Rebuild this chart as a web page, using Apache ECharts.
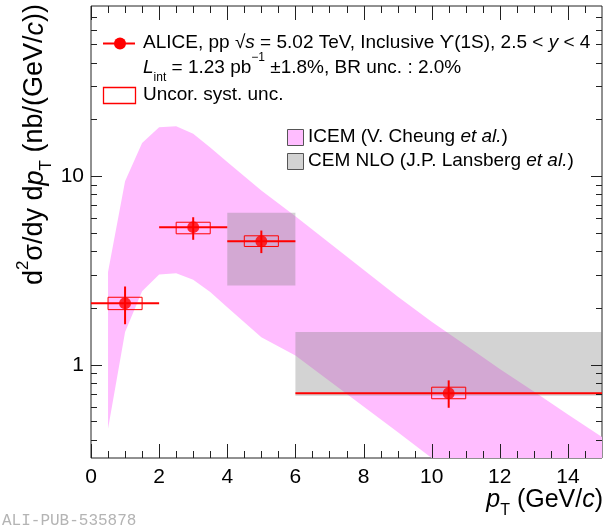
<!DOCTYPE html>
<html>
<head>
<meta charset="utf-8">
<script src="https://cdn.jsdelivr.net/npm/echarts@6/dist/echarts.min.js"></script>
<style>
  html, body { margin: 0; padding: 0; background: #fff; }
  #chart { width: 605px; height: 527px; }
</style>
</head>
<body>
<div id="chart"></div>
<script>
// ALICE Upsilon(1S) points
const ptCenter = [1, 3, 5, 10.5];
const ptLow = [0, 2, 4, 6];
const ptHigh = [2, 4, 6, 15];
const xsec = [2.12, 5.37, 4.52, 0.706];
const statLow = [1.64, 4.60, 3.91, 0.591];
const statHigh = [2.60, 6.06, 5.15, 0.826];
const systLow = [1.96, 4.95, 4.24, 0.660];
const systHigh = [2.28, 5.70, 4.83, 0.760];
const systPtLow = [0.5, 2.5, 4.5, 10];
const systPtHigh = [1.5, 3.5, 5.5, 11];

// ICEM band (V. Cheung et al.)
const icemPt = [0.5, 1, 1.5, 2, 2.5, 3, 3.5, 4, 5, 6, 7, 8, 9, 10, 11, 12, 13, 14, 15];
const icemLow = [0.458, 1.49, 2.45, 3.01, 3.06, 2.82, 2.43, 2.02, 1.40, 1.12, 0.82, 0.60, 0.44, 0.32, 0.235, 0.172, 0.126, 0.092, 0.068];
const icemHigh = [3.1, 9.4, 15.0, 18.2, 18.4, 16.8, 14.2, 11.9, 8.4, 6.13, 4.42, 3.19, 2.30, 1.69, 1.27, 0.95, 0.72, 0.545, 0.413];

// CEM NLO boxes (J.P. Lansberg et al.)
const cemPtLow = [4, 6];
const cemPtHigh = [6, 15];
const cemLow = [2.63, 0.685];
const cemHigh = [6.40, 1.49];

// axis ticks
const xMajorTicks = [0, 2, 4, 6, 8, 10, 12, 14];
const xMinorTicks = [0.5, 1, 1.5, 2.5, 3, 3.5, 4.5, 5, 5.5, 6.5, 7, 7.5, 8.5, 9, 9.5,
  10.5, 11, 11.5, 12.5, 13, 13.5, 14.5];
const yMajorTicks = [1, 10];
const yMinorTicks = [0.4, 0.5, 0.6, 0.7, 0.8, 0.9, 2, 3, 4, 5, 6, 7, 8, 9,
  20, 30, 40, 50, 60, 70];

const X_MIN = 0, X_MAX = 15, Y_MIN = 0.32, Y_MAX = 80;
const FONT = "'Liberation Sans', Arial, Helvetica, sans-serif";
const RED = '#ff0000';
const PINK = '#ffbdff';
const GREY = 'rgba(128,128,128,0.35)';

const ticks = [];
xMajorTicks.forEach((v) => ticks.push({ axis: 'x', v, major: true }));
xMinorTicks.forEach((v) => ticks.push({ axis: 'x', v, major: false }));
yMajorTicks.forEach((v) => ticks.push({ axis: 'y', v, major: true }));
yMinorTicks.forEach((v) => ticks.push({ axis: 'y', v, major: false }));

function renderTick(params, api) {
  const cs = params.coordSys;
  const t = ticks[params.dataIndex];
  const st = { stroke: '#222', lineWidth: 1 };
  if (t.axis === 'x') {
    const px = Math.round(api.coord([t.v, Y_MIN])[0]) + 0.5;
    const len = t.major ? 14 : 7;
    const b = cs.y + cs.height;
    return {
      type: 'group',
      children: [
        { type: 'line', shape: { x1: px, y1: b, x2: px, y2: b - len }, style: st },
        { type: 'line', shape: { x1: px, y1: cs.y, x2: px, y2: cs.y + len }, style: st },
      ],
    };
  }
  const py = Math.round(api.coord([X_MIN, t.v])[1]) + 0.5;
  const len = t.major ? 11 : 6;
  const r = cs.x + cs.width;
  return {
    type: 'group',
    children: [
      { type: 'line', shape: { x1: cs.x, y1: py, x2: cs.x + len, y2: py }, style: st },
      { type: 'line', shape: { x1: r, y1: py, x2: r - len, y2: py }, style: st },
    ],
  };
}

function renderBand(params, api) {
  const pts = [];
  icemPt.forEach((p, i) => pts.push(api.coord([p, icemHigh[i]])));
  for (let i = icemPt.length - 1; i >= 0; i--) pts.push(api.coord([icemPt[i], icemLow[i]]));
  return { type: 'polygon', shape: { points: pts }, style: { fill: PINK } };
}

function renderCem(params, api) {
  const i = params.dataIndex;
  const a = api.coord([cemPtLow[i], cemHigh[i]]);
  const b = api.coord([cemPtHigh[i], cemLow[i]]);
  return {
    type: 'rect',
    shape: { x: a[0], y: a[1], width: b[0] - a[0], height: b[1] - a[1] },
    style: { fill: GREY },
  };
}

function renderErrors(params, api) {
  const i = params.dataIndex;
  const h0 = api.coord([ptLow[i], xsec[i]]);
  const h1 = api.coord([ptHigh[i], xsec[i]]);
  const v0 = api.coord([ptCenter[i], statLow[i]]);
  const v1 = api.coord([ptCenter[i], statHigh[i]]);
  const b0 = api.coord([systPtLow[i], systHigh[i]]);
  const b1 = api.coord([systPtHigh[i], systLow[i]]);
  return {
    type: 'group',
    children: [
      {
        type: 'rect',
        shape: { x: b0[0], y: b0[1], width: b1[0] - b0[0], height: b1[1] - b0[1] },
        style: { fill: 'none', stroke: RED, lineWidth: 1 },
      },
      { type: 'line', shape: { x1: h0[0], y1: h0[1], x2: h1[0], y2: h1[1] }, style: { stroke: RED, lineWidth: 2 } },
      { type: 'line', shape: { x1: v0[0], y1: v0[1], x2: v1[0], y2: v1[1] }, style: { stroke: RED, lineWidth: 2 } },
    ],
  };
}

const txt = { fontFamily: FONT, fontSize: 19, lineHeight: 32, fill: '#000' };
const legendRich = {
  n: { ...txt },
  i: { ...txt, fontStyle: 'italic' },
  sub: { fontFamily: FONT, fontSize: 12, lineHeight: 12, verticalAlign: 'bottom', fill: '#000' },
  sup: { fontFamily: FONT, fontSize: 12, lineHeight: 19, verticalAlign: 'top', fill: '#000' },
};
const titleTxt = { fontFamily: FONT, fontSize: 25, lineHeight: 38, fill: '#000' };
const titleRich = {
  n: { ...titleTxt },
  i: { ...titleTxt, fontStyle: 'italic' },
  sub: { fontFamily: FONT, fontSize: 16, lineHeight: 16, verticalAlign: 'bottom', fill: '#000' },
  sup: { fontFamily: FONT, fontSize: 16, lineHeight: 22, verticalAlign: 'top', fill: '#000' },
};
const yTitleTxt = { fontFamily: FONT, fontSize: 27, lineHeight: 40, fill: '#000' };
const yTitleRich = {
  n: { ...yTitleTxt },
  i: { ...yTitleTxt, fontStyle: 'italic' },
  sub: { fontFamily: FONT, fontSize: 17, lineHeight: 17, verticalAlign: 'bottom', fill: '#000' },
  sup: { fontFamily: FONT, fontSize: 17, lineHeight: 23, verticalAlign: 'top', fill: '#000' },
};

function textEl(x, y, text, rich, align, extra) {
  return Object.assign({
    type: 'text', x, y, z: 100,
    style: { text, rich, align, verticalAlign: 'middle', textAlign: align, textVerticalAlign: 'middle' },
  }, extra || {});
}

const chart = echarts.init(document.getElementById('chart'), null, { renderer: 'canvas' });
chart.setOption({
  animation: false,
  backgroundColor: '#fff',
  grid: { left: 91, right: 3, top: 6, bottom: 69, show: true, borderColor: '#222', borderWidth: 1, backgroundColor: 'transparent' },
  xAxis: {
    type: 'value', min: X_MIN, max: X_MAX, interval: 2,
    axisLine: { show: false }, axisTick: { show: false }, splitLine: { show: false },
    axisLabel: {
      margin: 9, fontSize: 21, fontFamily: FONT, color: '#000',
      formatter: (v) => (v % 2 === 0 ? String(v) : ''),
    },
  },
  yAxis: {
    type: 'log', logBase: 10, min: Y_MIN, max: Y_MAX,
    axisLine: { show: false }, axisTick: { show: false }, splitLine: { show: false },
    axisLabel: {
      margin: 7, fontSize: 21, fontFamily: FONT, color: '#000',
      formatter: (v) => {
        const l = Math.log10(v);
        return Math.abs(l - Math.round(l)) < 1e-6 ? String(Math.round(v)) : '';
      },
    },
  },
  series: [
    { type: 'custom', name: 'ICEM', clip: true, silent: true, z: 1, data: [[icemPt[0], icemHigh[0]]], renderItem: renderBand },
    { type: 'custom', name: 'CEM NLO', clip: true, silent: true, z: 2, data: cemPtLow.map((p, i) => [p, cemLow[i]]), renderItem: renderCem },
    { type: 'custom', name: 'ALICE errors', clip: true, silent: true, z: 3, data: ptCenter.map((p, i) => [p, xsec[i]]), renderItem: renderErrors },
    {
      type: 'scatter', name: 'ALICE', z: 4, symbol: 'circle', symbolSize: 12,
      itemStyle: { color: RED }, data: ptCenter.map((p, i) => [p, xsec[i]]),
    },
    { type: 'custom', name: 'ticks', clip: false, silent: true, z: 5, data: ticks.map(() => [X_MIN, Y_MIN]), renderItem: renderTick },
  ],
  graphic: [
    // legend
    { type: 'line', shape: { x1: 103, y1: 43.5, x2: 135, y2: 43.5 }, style: { stroke: RED, lineWidth: 2 }, z: 100 },
    { type: 'circle', shape: { cx: 120, cy: 43.5, r: 6 }, style: { fill: RED }, z: 100 },
    textEl(143, 43, '{n|ALICE, pp √}{i|s}{n| = 5.02 TeV, Inclusive ϒ(1S), 2.5 < }{i|y}{n| < 4}', legendRich, 'left'),
    textEl(143, 68, '{i|L}{sub|int}{n| = 1.23 pb}{sup|−1}{n| ±1.8%, BR unc. : 2.0%}', legendRich, 'left'),
    { type: 'polygon', shape: { points: [[103.5, 87.5], [135.5, 87.5], [135.5, 103.5], [103.5, 103.5]] }, style: { fill: 'rgba(255,255,255,0)', stroke: '#ff0000', lineWidth: 1.3 }, z: 100 },
    textEl(143, 95, '{n|Uncor. syst. unc.}', legendRich, 'left'),
    { type: 'rect', shape: { x: 287.5, y: 129.5, width: 16, height: 16 }, style: { fill: PINK, stroke: '#555', lineWidth: 1 }, z: 100 },
    textEl(308, 137, '{n|ICEM (V. Cheung }{i|et al.}{n|)}', legendRich, 'left'),
    { type: 'rect', shape: { x: 287.5, y: 153.5, width: 16, height: 16 }, style: { fill: '#d2d2d2', stroke: '#555', lineWidth: 1 }, z: 100 },
    textEl(308, 161, '{n|CEM NLO (J.P. Lansberg }{i|et al.}{n|)}', legendRich, 'left'),
    // axis titles
    textEl(35, 4, '{n|d}{sup|2}{n|σ/dy d}{i|p}{sub|T}{n| (nb/(GeV/}{i|c}{n|))}', yTitleRich, 'right', { rotation: Math.PI / 2 }),
    textEl(603, 500, '{i|p}{sub|T}{n| (GeV/}{i|c}{n|)}', titleRich, 'right'),
    {
      type: 'text', x: 2, y: 521, z: 100,
      style: { text: 'ALI-PUB-535878', fontFamily: "'Liberation Mono', 'DejaVu Sans Mono', monospace", fontSize: 16, fill: '#b4b4b4', verticalAlign: 'middle', textVerticalAlign: 'middle' },
    },
  ],
});
</script>
</body>
</html>
